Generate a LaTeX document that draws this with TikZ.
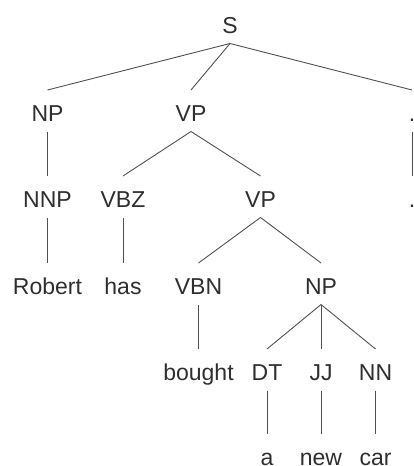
\documentclass[tikz,border=0pt]{standalone}
\usepackage{fontspec}
\setmainfont{Liberation Sans}
\usetikzlibrary{calc}
\definecolor{txt}{HTML}{2E2E2E}
\definecolor{edge}{HTML}{505050}
\begin{document}
\begin{tikzpicture}[x=1pt,y=-1pt,
  lab/.style={anchor=base,inner sep=0pt,text=txt,font=\fontsize{23}{28}\selectfont},
  br/.style={draw=edge,line width=0.9pt}]
\useasboundingbox (0,0) rectangle (413,466);
% nodes
\node[lab] (S) at (230,33) {S};
\node[lab] (NP) at (47.5,121) {NP};
\node[lab] (VP) at (191,121) {VP};
\node[lab] (P1) at (412,121) {.};
\node[lab] (NNP) at (47.5,207) {NNP};
\node[lab] (VBZ) at (123,207) {VBZ};
\node[lab] (VP2) at (260.5,207) {VP};
\node[lab] (P2) at (412,207) {.};
\node[lab] (Robert) at (47.5,294) {Robert};
\node[lab] (has) at (123,294) {has};
\node[lab] (VBN) at (198.5,294) {VBN};
\node[lab] (NP2) at (321,294) {NP};
\node[lab] (bought) at (198.5,380) {bought};
\node[lab] (DT) at (267,380) {DT};
\node[lab] (JJ) at (321,380) {JJ};
\node[lab] (NN) at (375.5,380) {NN};
\node[lab] (a) at (267,465) {a};
\node[lab] (new) at (321,465) {new};
\node[lab] (car) at (375.5,465) {car};
% edges
\foreach \p/\c in {S/NP,S/VP,S/P1,NP/NNP,VP/VBZ,VP/VP2,P1/P2,NNP/Robert,VBZ/has,
  VP2/VBN,VP2/NP2,VBN/bought,NP2/DT,NP2/JJ,NP2/NN,DT/a,JJ/new,NN/car}
  \draw[br] ([yshift=-10.5pt]\p.base) -- ([yshift=31pt]\c.base);
\end{tikzpicture}
\end{document}
